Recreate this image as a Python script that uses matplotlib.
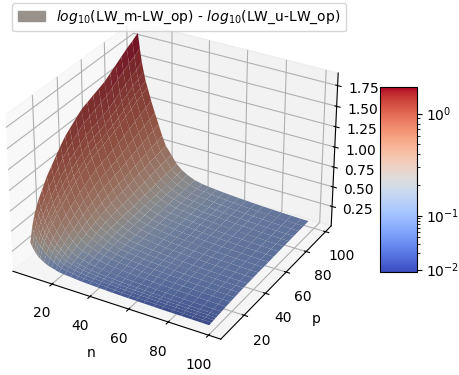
import numpy as np
import matplotlib
matplotlib.use("Agg")
import matplotlib.pyplot as plt
from matplotlib.cm import ScalarMappable
from matplotlib.colors import FuncNorm
from matplotlib.patches import Patch
from matplotlib.ticker import LogFormatterMathtext, NullFormatter

n_values = [5,6,7,8,9,10,12,14,16,18,20,23,26,29,32,36,40,44,48,52,56,60,64,69,73,78,83,88,93,97]
p_values = [5,7,9,11,13,16,20,24,28,32,36,40,45,50,55,60,65,70,75,80,85,90,95,100]

z_p005 = [.33,.28,.24,.21,.18,.165,.133,.109,.095,.081,.068,.06,.055,.047,.042,.038,.034,.031,.027,.025,.023,.022,.02,.019,.017,.016,.016,.015,.014,.0135]
z_p007 = [.50,.43,.37,.32,.285,.26,.206,.171,.139,.116,.094,.078,.07,.06,.053,.047,.042,.039,.034,.031,.029,.028,.025,.023,.022,.021,.02,.019,.018,.017]
z_p009 = [.62,.53,.46,.41,.36,.33,.262,.215,.178,.144,.117,.097,.086,.073,.065,.057,.051,.047,.042,.038,.036,.034,.031,.029,.027,.026,.024,.023,.022,.021]
z_p011 = [.70,.60,.525,.46,.41,.376,.30,.245,.204,.165,.133,.109,.096,.083,.073,.063,.057,.052,.046,.042,.04,.038,.034,.033,.03,.029,.027,.025,.025,.023]
z_p013 = [.77,.666,.58,.512,.454,.419,.336,.277,.229,.186,.15,.12,.105,.09,.079,.068,.062,.057,.051,.046,.044,.042,.037,.035,.033,.031,.029,.028,.027,.026]
z_p016 = [.85,.737,.643,.57,.508,.468,.378,.313,.26,.212,.171,.139,.121,.103,.09,.078,.069,.064,.058,.052,.049,.048,.043,.041,.038,.036,.033,.032,.03,.029]
z_p020 = [.96,.835,.73,.65,.58,.54,.438,.367,.306,.25,.204,.166,.144,.122,.107,.091,.082,.076,.068,.061,.06,.056,.05,.047,.044,.042,.039,.037,.036,.035]
z_p024 = [1.04,.90,.795,.71,.64,.59,.486,.408,.343,.282,.231,.19,.164,.138,.121,.104,.092,.085,.077,.07,.066,.063,.056,.053,.05,.048,.044,.043,.041,.04]
z_p028 = [1.12,.98,.865,.775,.70,.645,.533,.451,.38,.314,.256,.21,.184,.154,.135,.114,.102,.094,.085,.077,.073,.07,.064,.061,.055,.052,.05,.047,.045,.044]
z_p032 = [1.20,1.05,.926,.833,.75,.696,.579,.492,.414,.343,.281,.232,.201,.17,.147,.125,.111,.103,.094,.085,.08,.076,.07,.065,.062,.059,.055,.053,.049,.048]
z_p036 = [1.27,1.11,.985,.885,.80,.74,.62,.529,.446,.369,.304,.254,.214,.179,.154,.131,.116,.108,.097,.09,.084,.08,.073,.069,.064,.06,.057,.055,.053,.051]
z_p040 = [1.32,1.16,1.03,.928,.837,.778,.654,.558,.475,.394,.324,.273,.224,.187,.163,.137,.121,.112,.102,.094,.088,.083,.075,.071,.066,.063,.06,.057,.055,.053]
z_p045 = [1.38,1.22,1.08,.978,.885,.825,.698,.598,.507,.421,.348,.29,.236,.197,.17,.143,.127,.117,.106,.097,.092,.088,.081,.076,.071,.067,.063,.06,.058,.055]
z_p050 = [1.44,1.274,1.13,1.027,.93,.87,.74,.635,.54,.448,.372,.30,.244,.203,.173,.145,.128,.119,.109,.099,.094,.089,.082,.077,.072,.069,.065,.061,.059,.058]
z_p055 = [1.47,1.30,1.16,1.054,.958,.895,.762,.654,.556,.462,.381,.31,.247,.207,.176,.146,.13,.12,.11,.10,.095,.09,.082,.077,.072,.069,.065,.063,.06,.058]
z_p060 = [1.50,1.332,1.185,1.08,.984,.92,.786,.679,.578,.481,.399,.32,.252,.208,.179,.148,.13,.122,.11,.101,.096,.091,.084,.079,.074,.071,.066,.063,.06,.059]
z_p065 = [1.53,1.362,1.215,1.11,1.01,.949,.811,.70,.595,.493,.408,.33,.265,.22,.188,.155,.138,.127,.116,.108,.101,.095,.088,.083,.077,.074,.069,.067,.064,.061]
z_p070 = [1.56,1.39,1.24,1.14,1.04,.975,.84,.727,.62,.517,.429,.35,.274,.226,.193,.158,.139,.13,.118,.11,.103,.097,.09,.085,.08,.076,.072,.068,.065,.063]
z_p075 = [1.61,1.438,1.286,1.18,1.08,1.013,.873,.757,.645,.537,.445,.36,.281,.232,.197,.161,.142,.132,.121,.112,.106,.10,.093,.087,.081,.077,.073,.069,.067,.065]
z_p080 = [1.66,1.486,1.33,1.223,1.12,1.052,.909,.787,.67,.555,.459,.375,.288,.238,.20,.165,.145,.134,.122,.113,.108,.102,.095,.088,.084,.079,.075,.072,.068,.066]
z_p085 = [1.71,1.532,1.375,1.265,1.16,1.09,.943,.817,.695,.575,.475,.39,.295,.243,.204,.167,.146,.135,.125,.115,.109,.104,.095,.09,.085,.08,.076,.072,.069,.068]
z_p090 = [1.76,1.58,1.42,1.308,1.20,1.13,.977,.846,.72,.595,.488,.40,.304,.248,.209,.169,.149,.138,.129,.119,.111,.104,.098,.092,.087,.083,.077,.075,.071,.069]
z_p095 = [1.80,1.618,1.454,1.343,1.235,1.163,1.007,.871,.741,.61,.501,.41,.31,.253,.212,.172,.15,.14,.13,.12,.113,.107,.099,.094,.087,.085,.079,.075,.071,.069]
z_p100 = [1.85,1.665,1.50,1.388,1.277,1.203,1.042,.902,.767,.631,.517,.42,.32,.258,.216,.175,.153,.141,.131,.122,.115,.108,.102,.095,.09,.085,.08,.077,.073,.072]

Z = np.array([z_p005,z_p007,z_p009,z_p011,z_p013,z_p016,z_p020,z_p024,z_p028,z_p032,z_p036,z_p040,
              z_p045,z_p050,z_p055,z_p060,z_p065,z_p070,z_p075,z_p080,z_p085,z_p090,z_p095,z_p100])
X, Y = np.meshgrid(n_values, p_values)

log_knots = [-2.043, -1.0, 0.0, 0.262]
bar_knots = [0.0, 0.305, 0.856, 1.0]
def fwd(v):
    return np.interp(np.log10(np.maximum(v, 1e-9)), log_knots, bar_knots)
def inv(u):
    return 10 ** np.interp(u, bar_knots, log_knots)
norm = FuncNorm((fwd, inv), vmin=10**log_knots[0], vmax=10**log_knots[-1])
cmap = plt.get_cmap('coolwarm')

# facet colours: colormap value muted toward a dark tone, as on the reference surface
face = cmap(norm(Z))
face[..., :3] = face[..., :3] * 0.54 + 0.07

W, H = 459, 375
fig = plt.figure(figsize=(W/100, H/100), dpi=100)
ax = fig.add_axes([-15/W, 1-362.5/H, 370/W, 370/H], projection='3d')
ax.plot_surface(X, Y, Z, facecolors=face, shade=False, linewidth=0, antialiased=True,
                rstride=1, cstride=1)
ax.set_xlim(-1, 106)
ax.set_ylim(-1, 106)
ax.set_zlim(0, 1.9)
ax.set_xticks([20,40,60,80,100])
ax.set_yticks([20,40,60,80,100])
ax.set_zticks([0.25,0.5,0.75,1.0,1.25,1.5,1.75])
ax.set_xlabel('n')
ax.set_ylabel('p')

cax = fig.add_axes([380/W, 1-272/H, 36.5/W, 185/H])
cb = fig.colorbar(ScalarMappable(norm=norm, cmap=cmap), cax=cax)
cb.set_ticks([0.01, 0.1, 1.0])
cax.yaxis.set_major_formatter(LogFormatterMathtext())
minor = [k*0.01 for k in range(2,10)] + [k*0.1 for k in range(2,10)]
cax.yaxis.set_ticks(minor, minor=True)
cax.yaxis.set_minor_formatter(NullFormatter())

handle = Patch(color=(0.60, 0.57, 0.55))
fig.legend([handle], [r'$log_{10}$(LW_m-LW_op) - $log_{10}$(LW_u-LW_op)'],
           loc='upper left', bbox_to_anchor=(12/W, 1-3/H), borderaxespad=0, fontsize=10)
fig.savefig('out.png', dpi=100)
